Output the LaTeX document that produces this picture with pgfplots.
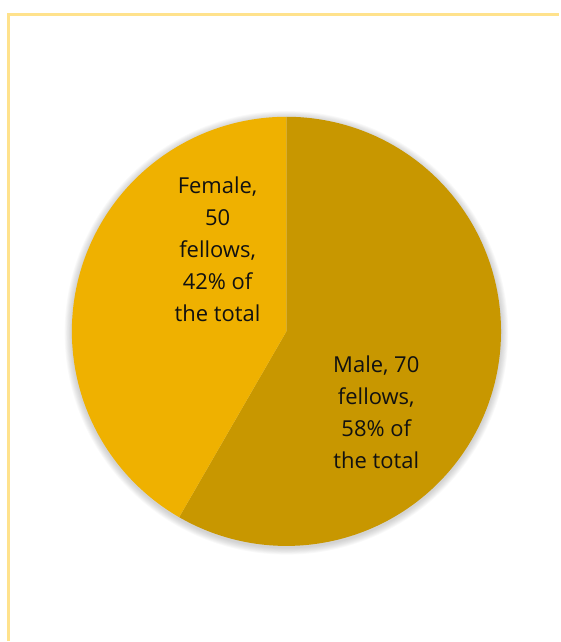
\documentclass[border=0pt]{standalone}
\usepackage{pgfplots}
\pgfplotsset{compat=1.18}
\usepackage{fontspec}
\setmainfont{Open Sans}
\definecolor{maleC}{HTML}{C89700}
\definecolor{femaleC}{HTML}{EFB100}
\definecolor{frameC}{HTML}{FFE28C}
\definecolor{txt}{HTML}{111111}
\def\maleN{70}
\def\femaleN{50}
\begin{document}
\begin{tikzpicture}
\pgfmathsetmacro\totN{\maleN+\femaleN}
\pgfmathsetmacro\mfrac{\maleN/\totN}
\pgfmathsetmacro\angA{90-360*\mfrac}
\pgfmathsetmacro\angB{\angA+360}
\begin{axis}[
  scale only axis, width=560pt, height=642pt,
  xmin=0, xmax=560, ymin=0, ymax=642,
  hide axis, clip=false,
]
\path (axis cs:0,0) rectangle (axis cs:560,642);
% frame (cropped chart border)
\draw[frameC, line width=2.5pt] (axis cs:8.5,0) -- (axis cs:8.5,627.5) -- (axis cs:560,627.5);
% soft shadow
\pgfplotsinvokeforeach{1,...,8}{
  \fill[black, opacity=0.025] (axis cs:287,308.5) circle[radius={215+#1*0.9}];
}
% slices
\addplot[fill=maleC, draw=none, domain=\angA:90, samples=240]
  ({287+215*cos(x)}, {310+215*sin(x)}) -- (axis cs:287,310) -- cycle;
\addplot[fill=femaleC, draw=none, domain=90:\angB, samples=180]
  ({287+215*cos(x)}, {310+215*sin(x)}) -- (axis cs:287,310) -- cycle;
% labels
\node[align=center, font=\fontsize{22}{32}\selectfont, text=txt] at (axis cs:218,392)
  {Female,\\50\\fellows,\\42\% of\\the total};
\node[align=center, font=\fontsize{22}{32}\selectfont, text=txt] at (axis cs:377,229)
  {Male, 70\\fellows,\\58\% of\\the total};
\end{axis}
\end{tikzpicture}
\end{document}
